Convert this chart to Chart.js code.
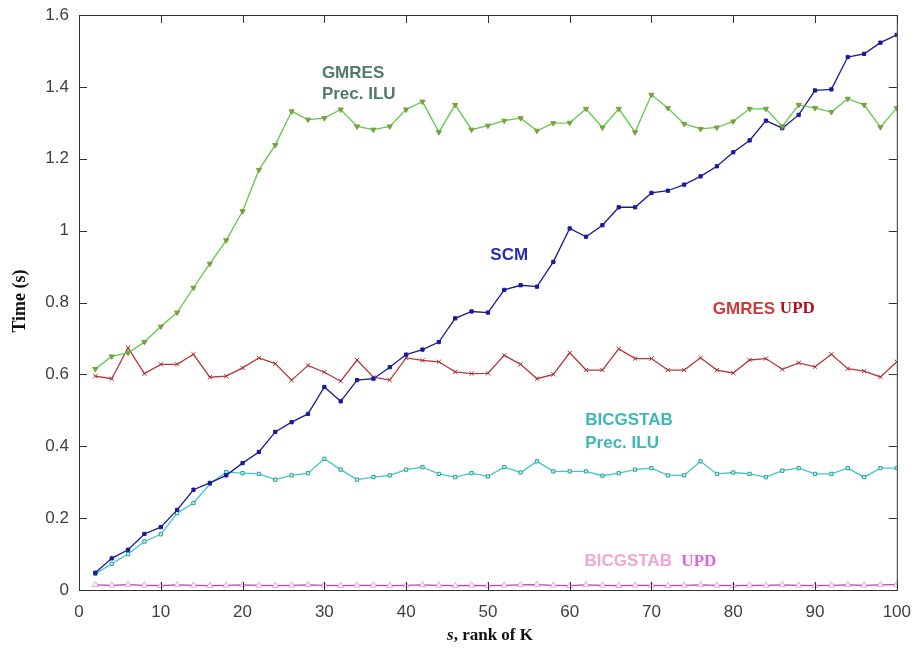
<!DOCTYPE html>
<html>
<head>
<meta charset="utf-8">
<title>Time vs rank of K</title>
<script src="https://cdn.jsdelivr.net/npm/chart.js@4.4.1/dist/chart.umd.min.js"></script>
<style>
    body { margin: 0; background: #fff; }
    #wrap { width: 915px; height: 650px; position: relative; }
</style>
</head>
<body>
<div id="wrap"><canvas id="timeChart" width="915" height="650"></canvas></div>
<script>
// rank s = 2, 4, ..., 100
const ranks = [2,4,6,8,10,12,14,16,18,20,22,24,26,28,30,32,34,36,38,40,42,44,46,48,50,
               52,54,56,58,60,62,64,66,68,70,72,74,76,78,80,82,84,86,88,90,92,94,96,98,100];

const gmresIlu = [0.615,0.650,0.660,0.690,0.733,0.772,0.841,0.908,0.973,1.054,1.169,1.238,1.332,1.309,1.313,1.337,1.290,1.281,1.290,1.337,1.359,1.274,1.350,1.281,1.292,
                  1.306,1.313,1.278,1.299,1.300,1.339,1.287,1.339,1.274,1.378,1.341,1.297,1.283,1.287,1.304,1.339,1.339,1.290,1.350,1.341,1.330,1.367,1.350,1.288,1.341];

const scm = [0.048,0.088,0.112,0.156,0.175,0.223,0.279,0.298,0.319,0.353,0.384,0.440,0.467,0.490,0.565,0.525,0.584,0.588,0.620,0.655,0.669,0.690,0.756,0.775,0.772,
             0.835,0.848,0.844,0.913,1.006,0.983,1.015,1.065,1.065,1.105,1.111,1.128,1.151,1.179,1.218,1.251,1.306,1.285,1.322,1.390,1.393,1.483,1.492,1.523,1.545];

const gmresUpd = [0.595,0.588,0.674,0.602,0.628,0.628,0.656,0.592,0.595,0.618,0.646,0.630,0.584,0.625,0.606,0.581,0.640,0.592,0.584,0.646,0.639,0.635,0.607,0.602,0.603,
                  0.653,0.628,0.588,0.600,0.660,0.612,0.612,0.671,0.644,0.644,0.612,0.612,0.646,0.612,0.604,0.640,0.644,0.614,0.632,0.621,0.656,0.616,0.609,0.593,0.635];

const bicgIlu = [0.045,0.073,0.100,0.135,0.155,0.214,0.242,0.295,0.328,0.325,0.323,0.307,0.319,0.325,0.365,0.335,0.307,0.314,0.319,0.335,0.342,0.323,0.314,0.325,0.316,
                 0.342,0.327,0.358,0.330,0.330,0.330,0.318,0.325,0.335,0.339,0.319,0.319,0.358,0.323,0.327,0.323,0.314,0.332,0.339,0.323,0.323,0.339,0.314,0.339,0.339];

const bicgUpd = [0.014,0.013,0.015,0.013,0.012,0.014,0.013,0.012,0.013,0.014,0.013,0.012,0.013,0.014,0.013,0.012,0.013,0.013,0.012,0.013,0.014,0.013,0.012,0.013,0.012,
                 0.013,0.014,0.015,0.013,0.012,0.014,0.013,0.012,0.013,0.013,0.012,0.013,0.014,0.013,0.012,0.013,0.013,0.014,0.013,0.012,0.013,0.014,0.013,0.014,0.015];

const xTicks = [0,10,20,30,40,50,60,70,80,90,100];
const yTicks = [0,0.2,0.4,0.6,0.8,1,1.2,1.4,1.6];

function toPoints(values) {
    return values.map((v, i) => ({ x: ranks[i], y: v }));
}

const SANS = 'bold 17px "Liberation Sans", Arial';
const SERIF = 'bold 17px "Liberation Serif", "Times New Roman"';

// curve labels, placed in data coordinates
const curveLabels = [
    { parts: [{ t: 'GMRES', c: '#4f7b69', f: SANS }], x: 29.7, y: 1.439 },
    { parts: [{ t: 'Prec. ILU', c: '#4f7b69', f: SANS }], x: 29.7, y: 1.379 },
    { parts: [{ t: 'SCM', c: '#2b2bb2', f: SANS }], x: 50.3, y: 0.931 },
    { parts: [{ t: 'GMRES ', c: '#cc3a3a', f: SANS },
              { t: 'UPD', c: '#b01020', f: SERIF }], x: 77.5, y: 0.782 },
    { parts: [{ t: 'BICGSTAB', c: '#3cb8b8', f: SANS }], x: 61.9, y: 0.472 },
    { parts: [{ t: 'Prec. ILU', c: '#3cb8b8', f: SANS }], x: 61.9, y: 0.408 },
    { parts: [{ t: 'BICGSTAB  ', c: '#f2a6d2', f: SANS },
              { t: 'UPD', c: '#e062e0', f: SERIF }], x: 61.8, y: 0.079 }
];

// box, inward ticks, axis titles and curve labels
const framePlugin = {
    id: 'frame',
    afterDraw(chart) {
        const ctx = chart.ctx;
        const a = chart.chartArea;
        const xs = chart.scales.x;
        const ys = chart.scales.y;
        ctx.save();
        ctx.strokeStyle = '#333';
        ctx.lineWidth = 1;
        ctx.strokeRect(a.left + 0.5, a.top + 0.5, a.right - a.left, a.bottom - a.top);
        ctx.beginPath();
        xTicks.forEach(v => {
            const px = Math.round(xs.getPixelForValue(v)) + 0.5;
            ctx.moveTo(px, a.bottom); ctx.lineTo(px, a.bottom - 8);
            ctx.moveTo(px, a.top); ctx.lineTo(px, a.top + 8);
        });
        yTicks.forEach(v => {
            const py = Math.round(ys.getPixelForValue(v)) + 0.5;
            ctx.moveTo(a.left, py); ctx.lineTo(a.left + 8, py);
            ctx.moveTo(a.right, py); ctx.lineTo(a.right - 8, py);
        });
        ctx.stroke();

        // axis titles
        ctx.fillStyle = '#111';
        ctx.textBaseline = 'middle';
        ctx.textAlign = 'center';
        ctx.save();
        ctx.translate(20, 301);
        ctx.rotate(-Math.PI / 2);
        ctx.font = 'bold 18px "Liberation Serif", "Times New Roman"';
        ctx.fillText('Time (s)', 0, 0);
        ctx.restore();

        ctx.textAlign = 'left';
        const t1 = 's';
        const t2 = ', rank of K';
        ctx.font = 'bold italic 17px "Liberation Serif", "Times New Roman"';
        const w1 = ctx.measureText(t1).width;
        ctx.font = 'bold 17px "Liberation Serif", "Times New Roman"';
        const w2 = ctx.measureText(t2).width;
        const cx = 490 - (w1 + w2) / 2;
        ctx.font = 'bold italic 17px "Liberation Serif", "Times New Roman"';
        ctx.fillText(t1, cx, 636);
        ctx.font = 'bold 17px "Liberation Serif", "Times New Roman"';
        ctx.fillText(t2, cx + w1, 636);

        // curve labels
        curveLabels.forEach(lab => {
            let px = xs.getPixelForValue(lab.x);
            const py = ys.getPixelForValue(lab.y);
            lab.parts.forEach(p => {
                ctx.font = p.f;
                ctx.fillStyle = p.c;
                ctx.fillText(p.t, px, py);
                px += ctx.measureText(p.t).width;
            });
        });
        ctx.restore();
    }
};

const ctx = document.getElementById('timeChart').getContext('2d');
new Chart(ctx, {
    type: 'line',
    data: {
        datasets: [
            {
                label: 'GMRES Prec. ILU',
                data: toPoints(gmresIlu),
                borderColor: '#5ccc48',
                borderWidth: 1.3,
                pointStyle: 'triangle',
                rotation: 180,
                pointRadius: 3,
                pointBackgroundColor: '#7aa040',
                pointBorderColor: '#7aa040',
                pointBorderWidth: 1
            },
            {
                label: 'SCM',
                data: toPoints(scm),
                borderColor: '#1c1c8c',
                borderWidth: 1.3,
                pointStyle: 'rect',
                pointRadius: 2.3,
                pointBackgroundColor: '#1a1aa0',
                pointBorderColor: '#1a1aa0',
                pointBorderWidth: 1
            },
            {
                label: 'GMRES UPD',
                data: toPoints(gmresUpd),
                borderColor: '#b33a3a',
                borderWidth: 1.3,
                pointStyle: 'crossRot',
                pointRadius: 3,
                pointBorderColor: '#a83030',
                pointBorderWidth: 1
            },
            {
                label: 'BICGSTAB Prec. ILU',
                data: toPoints(bicgIlu),
                borderColor: '#40c8c8',
                borderWidth: 1.3,
                pointStyle: 'rect',
                pointRadius: 2.3,
                pointBackgroundColor: '#c8f0f0',
                pointBorderColor: '#2aa0a0',
                pointBorderWidth: 1
            },
            {
                label: 'BICGSTAB UPD',
                data: toPoints(bicgUpd),
                borderColor: '#c040b8',
                borderWidth: 1.3,
                pointStyle: 'triangle',
                pointRadius: 3.5,
                pointBackgroundColor: '#ffffff',
                pointBorderColor: '#f0a0d0',
                pointBorderWidth: 1
            }
        ]
    },
    options: {
        responsive: false,
        animation: false,
        layout: { padding: { left: 0, top: 15, right: 15, bottom: 0 } },
        plugins: { legend: { display: false }, tooltip: { enabled: false } },
        elements: { line: { tension: 0 } },
        scales: {
            x: {
                type: 'linear',
                min: 0,
                max: 100,
                afterBuildTicks: axis => { axis.ticks = xTicks.map(v => ({ value: v })); },
                afterFit: axis => { axis.height = 60; },
                grid: { display: false },
                border: { display: false },
                ticks: {
                    color: '#404040',
                    font: { family: '"Liberation Sans", Arial', size: 17 },
                    padding: 4,
                    maxRotation: 0
                }
            },
            y: {
                type: 'linear',
                min: 0,
                max: 1.6,
                afterBuildTicks: axis => { axis.ticks = yTicks.map(v => ({ value: v })); },
                afterFit: axis => { axis.width = 79; },
                grid: { display: false },
                border: { display: false },
                ticks: {
                    color: '#404040',
                    font: { family: '"Liberation Sans", Arial', size: 17 },
                    padding: 2,
                    callback: v => String(Math.round(v * 10) / 10)
                }
            }
        }
    },
    plugins: [framePlugin]
});
</script>
</body>
</html>
